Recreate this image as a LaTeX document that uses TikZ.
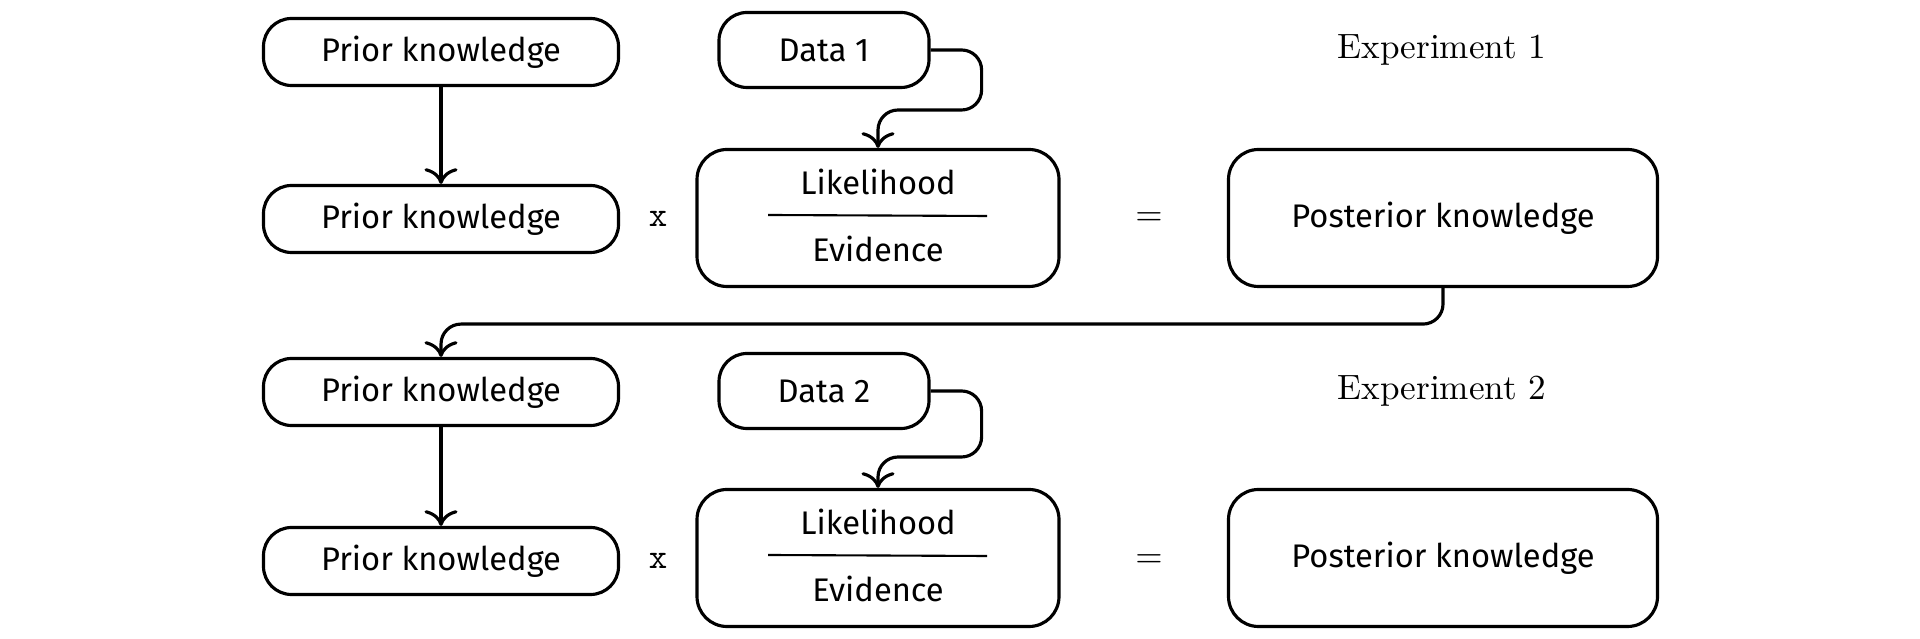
\documentclass[tikz,border=0pt]{standalone}
\usepackage{fontspec}
\newfontfamily\boxfont{Fira Sans}
\usetikzlibrary{positioning, arrows.meta}

\begin{document}
\begin{tikzpicture}[font = \boxfont\fontsize{9.3}{11}\selectfont, line width = 0.9pt,
	>={To[scale = 1.25]},
	box/.style = {rectangle, rounded corners = 0.28cm, draw = black, inner sep = 0pt},
	pill/.style = {box, minimum width = 3.55cm, minimum height = 0.67cm},
	datbox/.style = {box, minimum width = 2.1cm, minimum height = 0.75cm},
	fracbox/.style = {box, rounded corners = 0.3cm, minimum width = 3.62cm, minimum height = 1.37cm},
	postbox/.style = {box, rounded corners = 0.3cm, minimum width = 4.29cm, minimum height = 1.37cm},
	plain/.style = {font = \normalfont},
	bar/.style = {line width = 0.6pt},
	arrow/.style = {->, rounded corners = 0.2cm}]

	\useasboundingbox (0, 0) rectangle (19.2, -6.39);

	% experiment 1
	\node [pill] (prior1) at (4.41, -0.52) {Prior knowledge};
	\node [pill] (prior2) at (4.41, -2.19) {Prior knowledge};
	\node [datbox] (data1) at (8.24, -0.50) {Data 1};
	\node [fracbox] (lik1) at (8.78, -2.18) {};
	\node (num1) at (8.78, -1.82) {Likelihood};
	\node (den1) at (8.78, -2.49) {Evidence};
	\node [postbox] (post1) at (14.43, -2.18) {Posterior knowledge};
	\node [plain] (times1) at (6.58, -2.19) {\texttt{x}};
	\node [plain] (eq1) at (11.49, -2.19) {$=$};
	\node [plain] (exp1) at (14.42, -0.50) {Experiment 1};
	\draw [bar] (7.68, -2.15) -- (9.87, -2.16);

	% experiment 2
	\node [pill] (prior3) at (4.41, -3.92) {Prior knowledge};
	\node [pill] (prior4) at (4.41, -5.61) {Prior knowledge};
	\node [datbox] (data2) at (8.24, -3.91) {Data 2};
	\node [fracbox] (lik2) at (8.78, -5.58) {};
	\node (num2) at (8.78, -5.22) {Likelihood};
	\node (den2) at (8.78, -5.89) {Evidence};
	\node [postbox] (post2) at (14.43, -5.58) {Posterior knowledge};
	\node [plain] (times2) at (6.58, -5.61) {\texttt{x}};
	\node [plain] (eq2) at (11.49, -5.61) {$=$};
	\node [plain] (exp2) at (14.42, -3.91) {Experiment 2};
	\draw [bar] (7.68, -5.55) -- (9.87, -5.56);

	% connectors
	\draw [->] (prior1) -- (prior2);
	\draw [->] (prior3) -- (prior4);
	\draw [arrow] (data1.east) -| ++(0.51, -0.6) -| (lik1.north);
	\draw [arrow] (data2.east) -| ++(0.51, -0.66) -| (lik2.north);
	\draw [arrow] (post1.south) -- ++(0, -0.36) -| (prior3.north);

\end{tikzpicture}
\end{document}
